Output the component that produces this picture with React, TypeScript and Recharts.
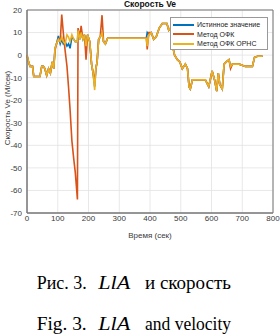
import React from 'react'
import {
  CartesianGrid,
  Line,
  LineChart,
  ReferenceArea,
  XAxis,
  YAxis,
} from 'recharts'

// ── data (sec / m/s) ──
const time = [
  0, 5, 10, 18, 22, 42, 48, 53, 58, 64,
  70, 76, 82, 87, 91, 96, 102, 108, 113, 118,
  124, 130, 135, 140, 146, 152, 157, 164, 166, 172,
  176, 182, 187, 192, 197, 204, 210, 215, 220, 224,
  228, 233, 238, 244, 249, 255, 262, 300, 350, 388,
  391, 396, 404, 412, 420, 430, 440, 455, 461, 467,
  472, 480, 489, 497, 505, 515, 522, 527, 531, 538,
  545, 560, 580, 591, 596, 602, 610, 617, 622, 627,
  635, 641, 648, 657, 662, 668, 690, 710, 733, 740,
  750, 760, 766,
]

const truth = [
  0, -3, -5, -5, -9.5, -9.5, -5, -5, -6, -9,
  -6, -8, -3, -6, 3, 5, 8.5, 5, 7, 5,
  6, 4, 5, 3, 8, 7, 6, 6, 11, 7,
  10, 7, 9, 4, 9, 6, -4, -8, -14, -6,
  -3, 7, 8, 10, 6, 5, 7.5, 7.5, 7.5, 7.5,
  10, 9, 10, 7, 8, 12, 14, 14, 11, 12,
  5, 0, -2, -3, -6, -4, -6, -14, -15, -11,
  -11, -11, -11, -14, -11, -7, -11, -16, -8, -13,
  -15, -4, -3, -2, -5, -4, -4, -5, -5, -1,
  -0.5, -0.5, -0.5,
]

const ofk = [
  0, -3, -5, -5, -9.5, -9.5, -5, -5, -6, -9,
  -6, -8, -3, -6, 2, 5, 7, 6, 18, 10,
  2, -5, -14, -24, -38, -46, -52, -64, 12, 8,
  13, 7, 9, -2, 9, 6, -4, -8, -12, -6,
  -3, 7, 8, 17.7, 6, 5, 7.5, 7.5, 7.5, 7.5,
  2.5, 10, 10, 7, 8, 12, 14, 14, 11, 12,
  5, 0, -2, -3, -6, -4, -6, -14, -15, -11,
  -11, -11, -11, -14, -11, -7, -11, -16, -8, -13,
  -15, -4, -3, -2, -6, -4, -4, -5, -5, -1,
  -0.5, -0.5, -0.5,
]

const ofkOrns = [
  0, -3, -5, -5, -9.5, -9.5, -5, -5, -6, -9,
  -6, -8, -3, -6, 3, 5, 7, 6, 8, 6,
  5, 9, 8, 6, 9, 7, 6, 6, 11, 7,
  10, 7, 9, 4, 9, 6, -4, -8, -15.5, -6,
  -3, 7, 8, 10, 6, 5, 7.5, 7.5, 7.5, 7.5,
  4, 9, 10, 7, 8, 12, 14, 14, 11, 12,
  5, 0, -2, -3, -6, -4, -6, -14, -15, -11,
  -11, -11, -11, -14, -11, -7, -11, -16, -8, -13,
  -15, -4, -3, -2, -5, -4, -4, -5, -5, -1,
  -0.5, -0.5, -0.5,
]

const xTicks = [0, 100, 200, 300, 400, 500, 600, 700, 800]
const yTicks = [-70, -60, -50, -40, -30, -20, -10, 0, 10, 20]

const series = [
  { key: 'truth', name: 'Истинное значение', color: '#0072BD' },
  { key: 'ofk', name: 'Метод ОФК', color: '#D95319' },
  { key: 'ofkOrns', name: 'Метод ОФК ОРНС', color: '#EDB120' },
]

// подпись к рисунку: [начало, курсив, конец]
const captionRu = ['Рис. 3.', 'LlA', 'и скорость']
const captionEn = ['Fig. 3.', 'LlA', 'and velocity']

const data = time.map((t, i) => ({
  t,
  truth: truth[i],
  ofk: ofk[i],
  ofkOrns: ofkOrns[i],
}))

const SANS = '"Liberation Sans", Arial, Helvetica, sans-serif'
const SERIF = '"Liberation Serif", "Times New Roman", serif'
const tickStyle = { fontSize: 8, fill: '#3a3a3a', fontFamily: SANS }

function CaptionLine({ parts, y }: { parts: string[]; y: number }) {
  const common = {
    y,
    fontFamily: SERIF,
    fontSize: 19,
    fill: '#000',
    lengthAdjust: 'spacingAndGlyphs' as const,
  }
  return (
    <g>
      <text {...common} x={36.7} textLength={50}>
        {parts[0]}
      </text>
      <text {...common} x={98.3} textLength={32} fontStyle="italic">
        {parts[1]}
      </text>
      <text {...common} x={145} textLength={86}>
        {parts[2]}
      </text>
    </g>
  )
}

export default function App() {
  return (
    <div
      style={{
        position: 'absolute',
        left: 0,
        top: 0,
        width: 280,
        height: 334,
        background: '#fff',
        overflow: 'hidden',
      }}
    >
      {/* title */}
      <div
        style={{
          position: 'absolute',
          left: 27,
          width: 246,
          top: -1,
          textAlign: 'center',
          font: `bold 8.5px ${SANS}`,
          color: '#111',
        }}
      >
        Скорость Ve
      </div>

      <div style={{ position: 'absolute', left: 0, top: 0 }}>
        <LineChart
          width={280}
          height={240}
          data={data}
          margin={{ top: 10, right: 7, bottom: 0, left: 0 }}
        >
          <CartesianGrid
            stroke="#e2e2e2"
            strokeWidth={0.8}
            horizontalValues={yTicks}
            verticalValues={xTicks}
          />
          <XAxis
            dataKey="t"
            type="number"
            domain={[0, 800]}
            ticks={xTicks}
            height={27}
            tickLine={false}
            tickSize={1}
            tickMargin={1}
            axisLine={{ stroke: '#777' }}
            tick={tickStyle}
            interval={0}
            label={{
              value: 'Время (сек)',
              position: 'insideBottom',
              offset: 2,
              style: { fontSize: 8, fill: '#3a3a3a', fontFamily: SANS, fontWeight: 'normal' },
            }}
          />
          <YAxis
            type="number"
            domain={[-70, 20]}
            ticks={yTicks}
            width={27}
            tickLine={false}
            tickSize={4}
            tickMargin={1}
            axisLine={{ stroke: '#777' }}
            tick={tickStyle}
            interval={0}
          />
          <ReferenceArea
            x1={0}
            x2={800}
            y1={-70}
            y2={20}
            fill="none"
            stroke="#777"
            strokeWidth={1}
          />
          {series.map((s) => (
            <Line
              key={s.key}
              dataKey={s.key}
              name={s.name}
              type="linear"
              stroke={s.color}
              strokeWidth={1.6}
              dot={false}
              activeDot={false}
              isAnimationActive={false}
            />
          ))}
        </LineChart>
      </div>

      {/* y axis label */}
      <svg
        width={14}
        height={200}
        style={{ position: 'absolute', left: 0, top: 8 }}
      >
        <text
          x={7}
          y={100}
          transform="rotate(-90 7 100)"
          textAnchor="middle"
          dominantBaseline="central"
          style={{ fontSize: 8, fill: '#3a3a3a', fontFamily: SANS }}
        >
          Скорость Ve (M/сек)
        </text>
      </svg>

      {/* legend */}
      <div
        style={{
          position: 'absolute',
          left: 170,
          top: 17,
          width: 98,
          height: 33,
          background: '#fff',
          border: '1px solid #999',
          boxSizing: 'border-box',
          padding: '2px 0 0 2px',
        }}
      >
        {series.map((s) => (
          <div
            key={s.key}
            style={{ display: 'flex', alignItems: 'center', height: 9.5 }}
          >
            <div
              style={{
                width: 21,
                height: 2,
                background: s.color,
                marginRight: 3,
              }}
            />
            <span
              style={{
                font: `7px ${SANS}`,
                color: '#222',
                whiteSpace: 'nowrap',
              }}
            >
              {s.name}
            </span>
          </div>
        ))}
      </div>

      {/* captions */}
      <svg
        width={280}
        height={94}
        style={{ position: 'absolute', left: 0, top: 240 }}
      >
        <CaptionLine parts={captionRu} y={48.5} />
        <CaptionLine parts={captionEn} y={90} />
      </svg>
    </div>
  )
}
